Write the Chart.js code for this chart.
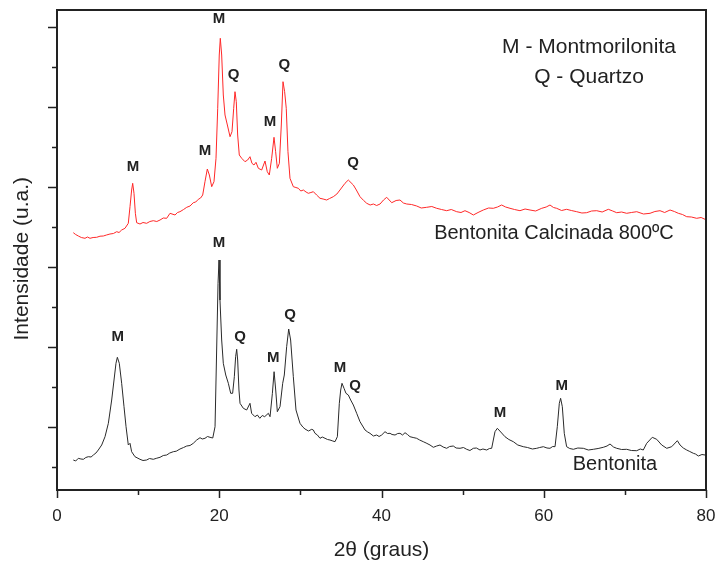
<!DOCTYPE html>
<html>
<head>
<meta charset="utf-8">
<script src="https://cdn.jsdelivr.net/npm/chart.js@4/dist/chart.umd.min.js"></script>
<style>
  body { margin: 0; background: #fff; }
  #wrap { width: 716px; height: 563px; }
</style>
</head>
<body>
<div id="wrap"><canvas id="drxChart" width="716" height="563"></canvas></div>
<script>
// Bentonita (preta)
var bentonitaAngle = [2.01, 2.3, 2.63, 2.95, 3.25, 3.55, 3.86, 4.2, 4.48, 4.8, 5.09, 5.51, 5.92, 6.33, 6.74, 7.03, 7.27, 7.44, 7.68, 7.97, 8.26, 8.51, 8.79, 9.0, 9.2, 9.61, 10.23, 10.6, 11.05, 11.4, 11.87, 12.3, 12.7, 13.1, 13.52, 13.9, 14.34, 14.7, 15.16, 15.6, 15.99, 16.4, 16.8, 17.22, 17.63, 17.9, 18.24, 18.55, 18.86, 19.2, 19.48, 19.68, 19.85, 19.97, 20.09, 20.3, 20.5, 20.8, 21.12, 21.41, 21.65, 21.86, 22.02, 22.15, 22.27, 22.43, 22.56, 22.97, 23.38, 23.79, 23.99, 24.4, 24.7, 25.0, 25.3, 25.6, 26.05, 26.26, 26.55, 26.76, 26.96, 27.16, 27.49, 27.82, 28.02, 28.31, 28.56, 28.8, 29.13, 29.46, 29.95, 30.3, 30.57, 31.0, 31.4, 31.6, 31.8, 32.1, 32.42, 32.7, 33.04, 33.35, 33.65, 34.0, 34.27, 34.56, 34.8, 34.97, 35.13, 35.38, 35.62, 35.91, 36.2, 36.53, 36.94, 37.35, 37.97, 38.3, 38.58, 39.0, 39.41, 39.7, 40.02, 40.43, 40.75, 41.05, 41.3, 41.67, 42.0, 42.28, 42.6, 42.9, 43.2, 43.51, 43.9, 44.33, 44.7, 45.15, 45.5, 45.98, 46.39, 46.8, 47.21, 47.6, 48.03, 48.4, 48.85, 49.2, 49.68, 50.1, 50.5, 50.9, 51.32, 51.7, 52.14, 52.5, 52.97, 53.3, 53.58, 53.99, 54.28, 54.7, 55.22, 55.7, 56.25, 56.8, 57.48, 58.0, 58.6, 59.13, 59.5, 59.95, 60.4, 60.77, 61.1, 61.39, 61.67, 61.92, 62.08, 62.29, 62.53, 62.82, 63.2, 63.65, 64.2, 64.88, 65.5, 66.11, 66.7, 67.34, 67.8, 68.17, 68.6, 68.99, 69.6, 70.22, 70.8, 71.46, 71.9, 72.27, 72.69, 73.38, 73.92, 74.54, 75.16, 75.77, 76.47, 76.8, 77.2, 77.62, 78.0, 78.44, 78.7, 79.06, 79.5, 79.88];
var bentonitaIntensity = [30, 29, 31.7, 31, 30.7, 32.5, 33.3, 33, 35, 37, 40, 45, 53.3, 66.7, 90, 110, 126.7, 132.7, 126.7, 106.7, 83.3, 63.3, 45, 46.7, 38.3, 33.3, 30.7, 29.5, 30, 31.5, 30.7, 31.8, 32.7, 34.5, 35, 37, 38.3, 38.8, 41, 42.5, 44, 44.5, 46.7, 50, 52.3, 51, 51.7, 53.5, 52.7, 52, 63.3, 140, 206.7, 230, 190, 150, 126.7, 115, 106.7, 96.7, 96.7, 113.3, 133.3, 140.7, 130, 100, 86.7, 81.7, 80, 86.7, 76.7, 73.3, 75, 71.7, 74.5, 73.3, 76.7, 73.3, 96.7, 118.3, 100, 78.3, 83.3, 106.7, 115, 143.3, 161, 150, 113.3, 80, 66.7, 63, 61, 59, 60.7, 60, 56.7, 55, 51.7, 53, 51.7, 50.5, 50, 49, 48.3, 53.3, 86.7, 100, 106.7, 101.7, 96.7, 95, 90, 85, 76.7, 68.3, 60, 58, 56.7, 54, 55, 53.5, 55, 58.3, 56.5, 56.7, 55.5, 55, 56.5, 56.7, 55, 57.3, 55.5, 53.3, 52.5, 51.7, 50, 48.3, 47, 45, 42.7, 44, 45, 43, 41.7, 43.5, 44, 42, 41.7, 42.5, 40.7, 39.5, 41.7, 42, 40, 41, 40, 41.5, 41.7, 58.3, 61.7, 58, 53.3, 50.5, 48.3, 45, 43.3, 42.5, 41, 41.7, 42.5, 43.3, 42, 41.7, 43.5, 43.3, 63.3, 86.7, 91.7, 83.3, 56.7, 43.3, 41.5, 40.7, 42, 41.7, 40, 40.7, 41.5, 42.7, 44, 46, 43, 41.7, 40.5, 40.7, 39.5, 39.3, 41, 40, 46.7, 52.7, 50.7, 45, 41.7, 43.3, 49.3, 45, 42, 40, 38.5, 36.7, 36, 34, 35.5, 35];

// Bentonita calcinada 800 ºC (vermelha)
var calcinadaAngle = [2.01, 2.3, 2.63, 3.0, 3.45, 3.75, 4.07, 4.45, 4.89, 5.3, 5.71, 6.1, 6.53, 6.95, 7.36, 7.65, 7.97, 8.38, 8.79, 9.0, 9.2, 9.33, 9.49, 9.66, 9.82, 10.23, 10.6, 11.05, 11.45, 11.87, 12.3, 12.7, 13.1, 13.52, 13.93, 14.55, 14.85, 15.16, 15.6, 15.99, 16.4, 16.8, 17.1, 17.42, 17.7, 17.96, 18.24, 18.53, 18.78, 19.07, 19.35, 19.6, 19.81, 20.0, 20.13, 20.3, 20.5, 20.71, 21.0, 21.33, 21.57, 21.78, 21.94, 22.1, 22.27, 22.47, 22.77, 23.17, 23.5, 23.79, 24.03, 24.28, 24.53, 24.82, 25.23, 25.64, 25.92, 26.17, 26.46, 26.75, 26.95, 27.16, 27.41, 27.65, 27.86, 28.06, 28.26, 28.47, 28.72, 29.13, 29.45, 29.75, 30.05, 30.37, 30.7, 30.98, 31.3, 31.6, 32.0, 32.42, 32.8, 33.24, 33.6, 34.06, 34.5, 34.88, 35.5, 35.91, 36.53, 36.9, 37.35, 37.8, 38.18, 38.6, 39.0, 39.4, 39.82, 40.25, 40.64, 40.95, 41.26, 41.8, 42.28, 42.7, 43.11, 43.7, 44.34, 44.9, 45.57, 46.2, 46.8, 47.4, 48.03, 48.6, 49.27, 49.8, 50.29, 50.8, 51.32, 51.9, 52.55, 53.2, 53.78, 54.3, 54.81, 55.3, 55.84, 56.4, 57.07, 57.7, 58.31, 59.0, 59.75, 60.3, 60.77, 61.2, 61.59, 62.2, 62.82, 63.4, 64.06, 64.7, 65.29, 65.9, 66.53, 67.2, 67.96, 68.5, 68.99, 69.6, 70.22, 70.8, 71.46, 72.3, 73.1, 73.7, 74.33, 74.9, 75.57, 76.1, 76.59, 77.1, 77.62, 78.2, 78.85, 79.4, 79.88];
var calcinadaIntensity = [257.3, 255.5, 254, 252.5, 251.7, 253, 251.7, 252.5, 252.7, 253.8, 254, 255, 256, 256.5, 258.3, 257.5, 260, 261.7, 266.7, 283.3, 300, 306.7, 296.7, 276.7, 267.3, 266, 267.5, 266.7, 268.5, 269.3, 268.5, 270, 272, 271.7, 276.7, 275, 277.5, 278.3, 280.5, 282.7, 284, 287.3, 288, 290.7, 292, 295, 308.3, 321, 315, 303.3, 308.3, 331.7, 381.7, 435, 451.7, 435, 395, 375, 365, 353.3, 358.3, 381.7, 398.3, 388.3, 355, 335, 331.7, 328.3, 330, 333.3, 326.7, 325, 327.7, 321.7, 320, 329, 318.3, 315, 331.7, 352.7, 338.3, 321.7, 326.7, 365, 408.3, 398.3, 381.7, 338.3, 311.7, 303.3, 302.5, 301.7, 299, 300, 298, 296.7, 297.5, 298.3, 295, 291.7, 291, 290, 291.5, 293.3, 296, 300, 306.7, 310, 305, 300, 293.3, 289.5, 286.7, 285, 286, 284.5, 286, 290, 292.7, 290, 287.3, 289.5, 290, 287, 286, 285.5, 284, 282, 282.7, 283.5, 281.7, 280.5, 279.3, 280.5, 278.3, 277.5, 279.3, 277.5, 275, 277.5, 280, 282, 281.7, 283, 285, 283, 281.7, 280.5, 279.3, 281, 280, 279, 281.7, 283, 285, 282.5, 281.7, 279.5, 280.7, 279.5, 278.3, 277, 277.3, 279, 279.3, 278, 280.7, 279, 277.3, 278, 276.7, 277.5, 278.3, 276, 276.7, 278.5, 279.3, 277.5, 280, 278.5, 276.7, 275.5, 273.3, 273, 271.7, 272.5, 270.7];

// identificação dos picos
var peakLetters = ['M', 'M', 'M', 'Q', 'M', 'Q', 'Q', 'M', 'M', 'Q', 'M', 'Q', 'M', 'Q', 'M', 'M'];
var peakAngles = [9.37, 18.24, 19.97, 21.76, 26.26, 28.02, 36.49, 7.48, 19.97, 22.56, 26.66, 28.72, 34.88, 36.73, 54.61, 62.21];
var peakIntensities = [323, 339, 471, 415, 368, 425, 327, 152.7, 247, 152.7, 131.7, 175, 122.3, 104, 77.3, 104];

// textos de legenda
var noteTexts = ['M - Montmorilonita', 'Q - Quartzo', 'Bentonita Calcinada 800ºC', 'Bentonita'];
var noteAngles = [65.58, 65.58, 61.26, 68.78];
var noteIntensities = [443, 413, 257, 26];
var noteSizes = [21, 21, 20, 20];

// eixos
var xTickValues = [0, 20, 40, 60, 80];
var xMinorTicks = [10, 30, 50, 70];
var yMajorTicks = [63.3, 143.3, 223.3, 303.3, 383.3, 463.3];
var yMinorTicks = [23.3, 103.3, 183.3, 263.3, 343.3, 423.3];

var FONT = "'Liberation Sans', Arial, sans-serif";
var INK = '#222';

function toPoints(xs, ys) {
    return xs.map(function (x, i) { return { x: x, y: ys[i] }; });
}

var framePlugin = {
    id: 'frame',
    afterDraw: function (chart) {
        var ctx = chart.ctx;
        var a = chart.chartArea;
        var xs = chart.scales.x;
        var ys = chart.scales.y;
        ctx.save();
        ctx.strokeStyle = INK;
        ctx.lineWidth = 2;
        ctx.strokeRect(a.left, a.top, a.right - a.left, a.bottom - a.top);

        ctx.lineWidth = 1.5;
        ctx.beginPath();
        xTickValues.forEach(function (v) {
            var p = Math.round(xs.getPixelForValue(v)) + 0.5;
            ctx.moveTo(p, a.bottom); ctx.lineTo(p, a.bottom + 8);
        });
        xMinorTicks.forEach(function (v) {
            var p = Math.round(xs.getPixelForValue(v)) + 0.5;
            ctx.moveTo(p, a.bottom); ctx.lineTo(p, a.bottom + 5);
        });
        yMajorTicks.forEach(function (v) {
            var p = Math.round(ys.getPixelForValue(v)) + 0.5;
            ctx.moveTo(a.left, p); ctx.lineTo(a.left - 9, p);
        });
        yMinorTicks.forEach(function (v) {
            var p = Math.round(ys.getPixelForValue(v)) + 0.5;
            ctx.moveTo(a.left, p); ctx.lineTo(a.left - 5, p);
        });
        ctx.stroke();

        ctx.fillStyle = INK;
        ctx.textAlign = 'center';
        ctx.textBaseline = 'middle';
        ctx.font = 'bold 15px ' + FONT;
        peakLetters.forEach(function (t, i) {
            ctx.fillText(t, xs.getPixelForValue(peakAngles[i]), ys.getPixelForValue(peakIntensities[i]));
        });
        noteTexts.forEach(function (t, i) {
            ctx.font = noteSizes[i] + 'px ' + FONT;
            ctx.fillText(t, xs.getPixelForValue(noteAngles[i]), ys.getPixelForValue(noteIntensities[i]));
        });
        ctx.restore();
    }
};

window.onload = function () {
    var ctx = document.getElementById('drxChart').getContext('2d');
    var drxChart = new Chart(ctx, {
        type: 'line',
        data: {
            datasets: [{
                label: 'Bentonita Calcinada 800ºC',
                data: toPoints(calcinadaAngle, calcinadaIntensity),
                borderColor: 'rgb(255, 40, 40)',
                borderWidth: 1,
                pointRadius: 0,
                tension: 0
            }, {
                label: 'Bentonita',
                data: toPoints(bentonitaAngle, bentonitaIntensity),
                borderColor: '#2a2a2a',
                borderWidth: 1,
                pointRadius: 0,
                tension: 0
            }]
        },
        options: {
            responsive: false,
            animation: false,
            layout: { padding: { top: 10, right: 10, left: 0, bottom: 0 } },
            plugins: {
                legend: { display: false },
                tooltip: { enabled: false }
            },
            scales: {
                x: {
                    type: 'linear',
                    min: 0,
                    max: 80,
                    afterBuildTicks: function (scale) {
                        scale.ticks = xTickValues.map(function (v) { return { value: v }; });
                    },
                    afterFit: function (scale) {
                        scale.height = 73;
                        scale.paddingLeft = 0;
                        scale.paddingRight = 0;
                    },
                    grid: { display: false, drawTicks: false },
                    border: { display: false },
                    ticks: {
                        padding: 16,
                        maxRotation: 0,
                        color: INK,
                        font: { family: FONT, size: 17 }
                    },
                    title: {
                        display: true,
                        text: '2θ (graus)',
                        color: INK,
                        padding: { top: 0, bottom: 0 },
                        font: { family: FONT, size: 21 }
                    }
                },
                y: {
                    type: 'linear',
                    min: 0,
                    max: 480,
                    afterFit: function (scale) {
                        scale.width = 57;
                        scale.paddingTop = 0;
                        scale.paddingBottom = 0;
                    },
                    grid: { display: false, drawTicks: false },
                    border: { display: false },
                    ticks: { display: false },
                    title: {
                        display: true,
                        text: 'Intensidade (u.a.)   ',
                        color: INK,
                        padding: { top: 10, bottom: 0 },
                        font: { family: FONT, size: 21 }
                    }
                }
            }
        },
        plugins: [framePlugin]
    });
};
</script>
</body>
</html>
